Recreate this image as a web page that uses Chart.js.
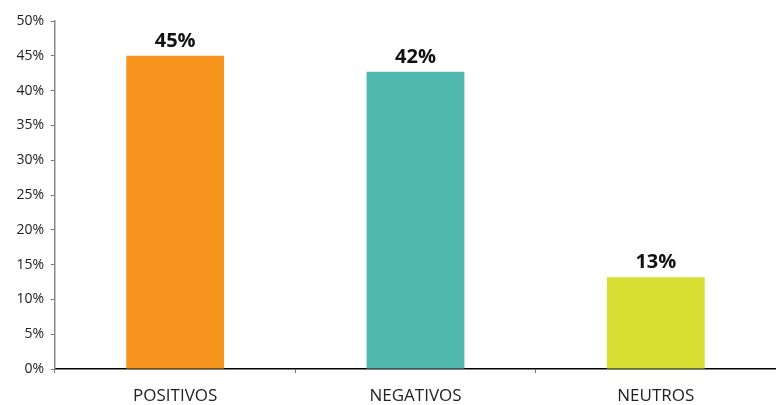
<!DOCTYPE html>
<html>
<head>
<meta charset="utf-8">
<script src="https://cdn.jsdelivr.net/npm/chart.js@4"></script>
<style>
  html, body { margin: 0; padding: 0; background: #fff; }
  #wrap { width: 776px; height: 405px; }
</style>
</head>
<body>
<div id="wrap"><canvas id="grafico"></canvas></div>
<script>
// dados
const categorias = ['POSITIVOS', 'NEGATIVOS', 'NEUTROS']
const valores = [45, 42.7, 13.2]
const rotulos = ['45%', '42%', '13%']
const cores = ['#F7941D', '#52B9B0', '#D7DF33']
const ticksY = [0, 5, 10, 15, 20, 25, 30, 35, 40, 45, 50]

// escreve o valor em cima de cada barra
const rotuloBarras = {
    id: 'rotuloBarras',
    afterDatasetsDraw(chart) {
        const ctx = chart.ctx
        const meta = chart.getDatasetMeta(0)
        ctx.save()
        ctx.font = 'bold 20px "Open Sans"'
        ctx.fillStyle = '#111'
        ctx.textAlign = 'center'
        ctx.textBaseline = 'bottom'
        meta.data.forEach((bar, i) => {
            ctx.fillText(rotulos[i], bar.x, bar.y - 5)
        })
        ctx.restore()
    }
}

const ctx = document.getElementById('grafico').getContext('2d')
new Chart(ctx, {
    type: 'bar',
    data: {
        labels: categorias,
        datasets: [{
            data: valores,
            backgroundColor: cores,
            categoryPercentage: 1,
            barPercentage: 0.407
        }]
    },
    options: {
        responsive: true,
        maintainAspectRatio: false,
        animation: false,
        layout: { padding: { top: 21, right: 0, left: 0, bottom: 0 } },
        plugins: {
            legend: { display: false },
            tooltip: { enabled: false }
        },
        scales: {
            x: {
                grid: { display: true, drawOnChartArea: false, tickLength: 4, color: '#777' },
                border: { color: '#000', width: 1.5 },
                ticks: { color: '#222', font: { family: 'Open Sans', size: 17 }, padding: 13 },
                afterFit: scale => { scale.height = 36 }
            },
            y: {
                min: 0,
                max: 50,
                afterBuildTicks: scale => { scale.ticks = ticksY.map(v => ({ value: v })) },
                grid: { display: true, drawOnChartArea: false, tickLength: 4, color: '#777' },
                border: { color: '#888', width: 1.5 },
                ticks: {
                    color: '#222',
                    font: { family: 'Open Sans', size: 14 },
                    padding: 7,
                    callback: v => v + '%'
                },
                afterFit: scale => { scale.width = 55 }
            }
        }
    },
    plugins: [rotuloBarras]
})
</script>
</body>
</html>
